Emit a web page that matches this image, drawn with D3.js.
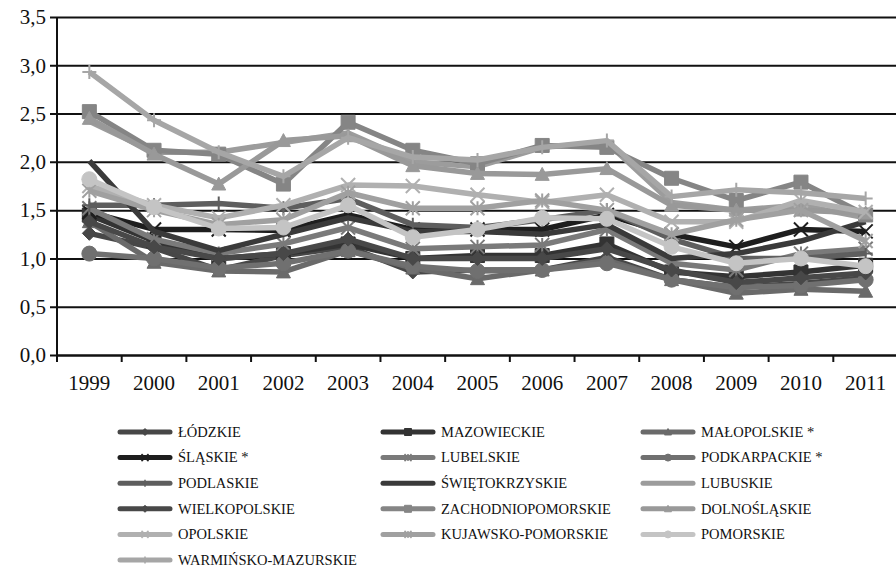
<!DOCTYPE html>
<html><head><meta charset="utf-8">
<script src="https://cdn.jsdelivr.net/npm/d3@7"></script>
<style>body{margin:0;background:#fff}svg{display:block}</style>
</head><body>
<svg id="c" width="896" height="567"></svg>
<script>
const years = ["1999","2000","2001","2002","2003","2004","2005","2006","2007","2008","2009","2010","2011"];
const yTicks = [0,0.5,1,1.5,2,2.5,3,3.5];
const names = ["ŁÓDZKIE","MAZOWIECKIE","MAŁOPOLSKIE *","ŚLĄSKIE *","LUBELSKIE","PODKARPACKIE *","PODLASKIE","ŚWIĘTOKRZYSKIE","LUBUSKIE","WIELKOPOLSKIE","ZACHODNIOPOMORSKIE","DOLNOŚLĄSKIE","OPOLSKIE","KUJAWSKO-POMORSKIE","POMORSKIE","WARMIŃSKO-MAZURSKIE"];
const lodzkie      = [1.26,1.11,0.88,1.03,1.12,0.86,0.88,0.88,1.01,0.78,0.70,0.74,0.80];
const mazowieckie  = [1.45,1.18,1.00,1.05,1.15,1.00,1.03,1.03,1.15,0.86,0.81,0.86,0.93];
const malopolskie  = [1.38,0.96,0.87,0.86,1.08,0.90,0.79,0.88,0.98,0.78,0.64,0.68,0.66];
const slaskie      = [1.48,1.30,1.30,1.29,1.45,1.30,1.30,1.30,1.45,1.25,1.12,1.30,1.28];
const lubelskie    = [1.52,1.20,1.05,1.15,1.32,1.10,1.12,1.14,1.30,0.95,0.88,1.05,1.10];
const podkarpackie = [1.05,1.00,0.90,0.95,1.08,0.92,0.87,0.88,0.95,0.78,0.70,0.72,0.78];
const podlaskie    = [1.55,1.55,1.57,1.52,1.62,1.35,1.32,1.40,1.50,1.20,1.00,1.00,1.05];
const swietokrz    = [2.01,1.28,1.08,1.25,1.42,1.28,1.28,1.25,1.35,1.00,1.05,1.18,1.38];
const lubuskie     = [2.42,2.10,2.10,2.20,2.30,2.00,1.95,2.15,2.20,1.58,1.50,1.55,1.42];
const wielkopolskie= [1.38,1.12,1.00,1.05,1.20,1.00,1.00,1.00,1.10,0.88,0.75,0.80,0.85];
const zachodniopom = [2.52,2.12,2.08,1.77,2.41,2.12,1.98,2.17,2.15,1.83,1.60,1.79,1.45];
const dolnoslaskie = [2.45,2.08,1.77,2.22,2.27,1.96,1.88,1.87,1.93,1.55,1.50,1.50,1.47];
const opolskie     = [1.75,1.55,1.42,1.55,1.76,1.75,1.66,1.58,1.66,1.38,1.38,1.60,1.48];
const kujawsko     = [1.70,1.50,1.35,1.40,1.68,1.52,1.52,1.60,1.50,1.25,1.40,1.50,1.18];
const pomorskie    = [1.82,1.53,1.31,1.32,1.55,1.22,1.30,1.42,1.41,1.12,0.95,1.00,0.92];
const warminsko    = [2.93,2.43,2.10,1.85,2.25,2.05,2.02,2.15,2.22,1.64,1.71,1.68,1.62];
const seriesValues = [lodzkie,mazowieckie,malopolskie,slaskie,lubelskie,podkarpackie,podlaskie,swietokrz,lubuskie,wielkopolskie,zachodniopom,dolnoslaskie,opolskie,kujawsko,pomorskie,warminsko];

const colors = ["#474747","#333333","#6a6a6a","#1e1e1e","#7a7a7a","#707070","#5e5e5e","#3a3a3a","#9c9c9c","#484848","#858585","#999999","#b0b0b0","#a0a0a0","#c4c4c4","#a6a6a6"];
const markers = ["diamond","square","triangle","x","star","circle","plus","none","none","diamond","square","triangle","x","star","circle","plus"];

const FONT = "'Liberation Serif'";
const svg = d3.select("#c");
const L = 57, R = 898, T = 17, B = 355;
const x = d3.scaleBand().domain(years).range([L, R]);
const y = d3.scaleLinear().domain([0, 3.5]).range([B, T]);
const cx = d => x(d) + x.bandwidth()/2;

// gridlines + y axis
const ya = svg.append("g").attr("transform", `translate(${L},0)`)
  .call(d3.axisLeft(y).tickValues(yTicks).tickFormat(d => d3.format(".1f")(d).replace(".", ",")).tickSize(7).tickPadding(4));
ya.attr("font-family", null).attr("font-size", null);
ya.select(".domain").remove();
ya.selectAll(".tick line").attr("stroke", "#111").attr("stroke-width", 2).attr("x1", -7).attr("x2", R - L);
ya.selectAll("text").style("font-family", FONT).style("font-size", "21px").attr("fill", "#111");
svg.append("line").attr("x1", L).attr("x2", L).attr("y1", T).attr("y2", B).attr("stroke", "#111").attr("stroke-width", 2);

// x axis
const xa = svg.append("g").attr("transform", `translate(0,${B})`)
  .call(d3.axisBottom(x).tickSize(0).tickPadding(20));
xa.attr("font-family", null).attr("font-size", null);
xa.select(".domain").attr("stroke", "#111").attr("stroke-width", 2);
xa.selectAll("text").style("font-family", FONT).style("font-size", "21px").attr("fill", "#111");
svg.append("g").selectAll("line").data(years.concat(["end"])).join("line")
  .attr("x1", (d,i) => L + i*x.bandwidth()).attr("x2", (d,i) => L + i*x.bandwidth())
  .attr("y1", B).attr("y2", B + 7).attr("stroke", "#111").attr("stroke-width", 2);

function markerPath(type, s) {
  const h = s/2;
  switch (type) {
    case "diamond": return `M0,${-h}L${h},0L0,${h}L${-h},0Z`;
    case "square": return `M${-h},${-h}H${h}V${h}H${-h}Z`;
    case "triangle": return `M0,${-h}L${h},${h*0.85}L${-h},${h*0.85}Z`;
    case "circle": return d3.symbol(d3.symbolCircle, Math.PI*h*h)();
    case "x": return `M${-h},${-h}L${h},${h}M${h},${-h}L${-h},${h}`;
    case "plus": return `M${-h},0H${h}M0,${-h}V${h}`;
    case "star": return `M${-h},${-h}L${h},${h}M${h},${-h}L${-h},${h}M0,${-h}V${h}`;
  }
  return "";
}
const stroked = t => t === "x" || t === "plus" || t === "star";

const line = d3.line().x((d,i) => cx(years[i])).y(d => y(d));
const plot = svg.append("g");
seriesValues.forEach((vals, si) => {
  const g = plot.append("g");
  g.append("path").attr("d", line(vals)).attr("fill", "none")
    .attr("stroke", colors[si]).attr("stroke-width", 5.5).attr("stroke-linejoin", "round");
  const m = markers[si];
  if (m !== "none") {
    const size = m === "circle" ? 15 : 14;
    g.selectAll("path.m").data(vals).join("path").attr("class", "m")
      .attr("transform", (d,i) => `translate(${cx(years[i])},${y(d)})`)
      .attr("d", markerPath(m, size))
      .attr("fill", stroked(m) ? "none" : colors[si])
      .attr("stroke", colors[si]).attr("stroke-width", stroked(m) ? 2 : 1);
  }
});

// legend
const colX = [120, 383, 643];
const rowY0 = 432, rowH = 25.6;
const leg = svg.append("g");
names.forEach((n, i) => {
  const c = i % 3, r = Math.floor(i / 3);
  const lx = colX[c], ly = rowY0 + r*rowH;
  const g = leg.append("g").attr("transform", `translate(${lx},${ly})`);
  g.append("line").attr("x1", 0).attr("x2", 50).attr("y1", 0).attr("y2", 0)
    .attr("stroke", colors[i]).attr("stroke-width", 5).attr("stroke-linecap", "round");
  const m = markers[i];
  if (m !== "none") {
    g.append("path").attr("transform", "translate(25,0)").attr("d", markerPath(m, 7))
      .attr("fill", stroked(m) ? "none" : colors[i]).attr("stroke", colors[i]).attr("stroke-width", stroked(m) ? 1.5 : 1);
  }
  g.append("text").attr("x", 58).attr("y", 0).attr("dy", "0.33em")
    .style("font-family", FONT).style("font-size", "14.5px").attr("fill", "#111").text(n);
});
</script>
</body></html>
